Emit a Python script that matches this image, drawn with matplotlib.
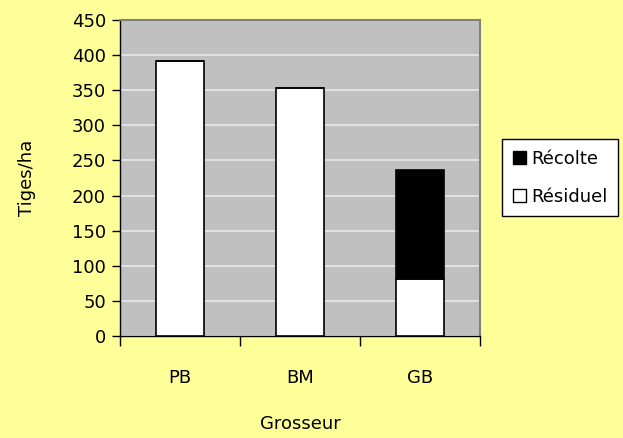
import matplotlib
matplotlib.use("Agg")
import matplotlib.pyplot as plt
from matplotlib.patches import Patch

# --- Data: stems per hectare by size class ---
categories = ["PB", "BM", "GB"]
residuel = [392, 353, 81]
recolte = [0, 0, 155]
y_ticks = list(range(0, 451, 50))

# --- Colours ---
bg_yellow = "#FFFF99"
plot_grey = "#C0C0C0"

plt.rcParams["font.family"] = ["DejaVu Sans"]
plt.rcParams["font.size"] = 13

fig = plt.figure(figsize=(6.23, 4.38), dpi=100, facecolor=bg_yellow)
ax = fig.add_axes([0.1926, 0.2329, 0.5778, 0.7215])
ax.set_facecolor(plot_grey)

x = list(range(len(categories)))
ax.bar(x, residuel, width=0.4, color="white", edgecolor="black", linewidth=1.2, zorder=3)
ax.bar(x, recolte, width=0.4, bottom=residuel, color="black", edgecolor="black",
       linewidth=1.2, zorder=3)

ax.set_xlim(-0.5, 2.5)
ax.set_ylim(0, 450)
ax.set_yticks(y_ticks)
ax.yaxis.grid(True, color="#E8E8E8", linewidth=1.2, zorder=0)
ax.set_axisbelow(True)

# category ticks sit between bars, labels centred under bars
ax.set_xticks([-0.5, 0.5, 1.5, 2.5])
ax.set_xticklabels([])
ax.set_xticks(x, minor=True)
ax.set_xticklabels(categories, minor=True)
ax.tick_params(axis="x", which="minor", length=0, pad=24)
ax.tick_params(axis="x", which="major", length=7, width=1, color="black", direction="out")
ax.tick_params(axis="y", length=6, width=1, direction="out", pad=4)

for side in ["top", "right"]:
    ax.spines[side].set_color("#808080")
    ax.spines[side].set_linewidth(1.5)
for side in ["left", "bottom"]:
    ax.spines[side].set_color("black")
    ax.spines[side].set_linewidth(1)

ax.set_ylabel("Tiges/ha", labelpad=26)
ax.set_xlabel("Grosseur", labelpad=20)

handles = [Patch(facecolor="black", edgecolor="black", label="Récolte"),
           Patch(facecolor="white", edgecolor="black", label="Résiduel")]
leg = fig.legend(handles=handles, loc="upper left", bbox_to_anchor=(0.806, 0.683),
                 frameon=True, fancybox=False, edgecolor="black", facecolor="white",
                 framealpha=1, handlelength=0.7, handleheight=0.7, handletextpad=0.3,
                 labelspacing=1.1, borderpad=0.6, borderaxespad=0, fontsize=13)
leg.get_frame().set_linewidth(1)

fig.savefig("out.png", dpi=100, facecolor=bg_yellow)
